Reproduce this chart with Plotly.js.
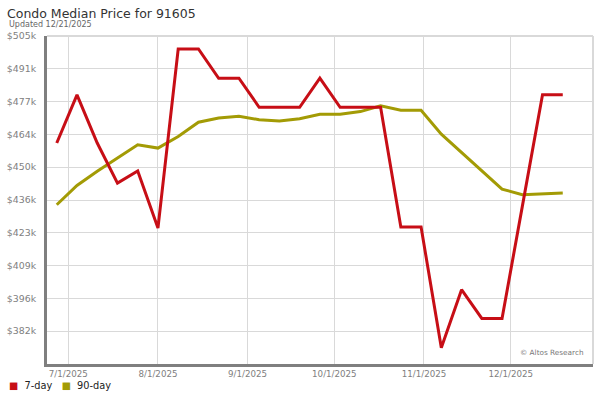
<!DOCTYPE html>
<html>
<head>
<meta charset="utf-8">
<script src="https://cdn.plot.ly/plotly-3.0.1.min.js"></script>
<style>html,body{margin:0;padding:0;background:#fff}#chart{width:600px;height:400px}</style>
</head>
<body>
<div id="chart"></div>
<script>
// Weekly observation dates
const dates = ['2025-06-27','2025-07-04','2025-07-11','2025-07-18','2025-07-25','2025-08-01','2025-08-08','2025-08-15','2025-08-22','2025-08-29','2025-09-05','2025-09-12','2025-09-19','2025-09-26','2025-10-03','2025-10-10','2025-10-17','2025-10-24','2025-10-31','2025-11-07','2025-11-14','2025-11-21','2025-11-28','2025-12-05','2025-12-12','2025-12-19'];
// 7-day median price
const sevenDay = [460400,480500,460400,443700,448800,425000,499600,499600,487400,487400,475300,475300,475300,487400,475300,475300,475300,425400,425400,375100,399300,387300,387300,433900,480500,480500];
// 90-day median price
const ninetyDay = [434700,442700,448600,454200,459700,458300,463100,469100,470800,471600,470100,469600,470500,472400,472400,473500,475900,474100,474100,464100,456600,448800,441200,438900,439200,439600];
// Axis ticks
const yTickLabels = ['$382k','$396k','$409k','$423k','$436k','$450k','$464k','$477k','$491k','$505k'];
const xTickDates = ['2025-07-01','2025-08-01','2025-09-01','2025-10-01','2025-11-01','2025-12-01'];
const xTickLabels = ['7/1/2025','8/1/2025','9/1/2025','10/1/2025','11/1/2025','12/1/2025'];

const yMin = 368333, yMax = 505000;
const yStep = (yMax - yMin) / 10;
const yTickVals = yTickLabels.map((_, i) => yMin + yStep * (i + 1));

const RED = '#c70e16';
const OLIVE = '#a39b05';
const FONT = 'DejaVu Sans, Verdana, sans-serif';

const traces = [
  {x: dates, y: ninetyDay, type: 'scatter', mode: 'lines', name: '90-day',
   line: {color: OLIVE, width: 3}, showlegend: false, hoverinfo: 'skip'},
  {x: dates, y: sevenDay, type: 'scatter', mode: 'lines', name: '7-day',
   line: {color: RED, width: 3}, showlegend: false, hoverinfo: 'skip'}
];

const layout = {
  width: 600, height: 400,
  margin: {l: 47, r: 7, t: 36, b: 36, pad: 0},
  paper_bgcolor: '#fff', plot_bgcolor: '#fff',
  font: {family: FONT, color: '#808080', size: 9},
  showlegend: false,
  title: {text: 'Condo Median Price for 91605', x: 7/600, xref: 'container', xanchor: 'left',
          y: 1 - 14/400, yref: 'container', yanchor: 'middle',
          font: {family: FONT, size: 12.5, color: '#333'}},
  xaxis: {
    type: 'date', range: ['2025-06-23 15:00', '2025-12-29 11:00'],
    tickmode: 'array', tickvals: xTickDates, ticktext: xTickLabels,
    showgrid: true, gridcolor: '#d9d9d9', gridwidth: 1,
    showline: true, linecolor: '#7f7f7f', linewidth: 3,
    ticks: '', zeroline: false, fixedrange: true,
    tickfont: {family: FONT, size: 8.7, color: '#808080'}
  },
  yaxis: {
    range: [yMin, yMax],
    tickmode: 'array', tickvals: yTickVals, ticktext: yTickLabels,
    showgrid: true, gridcolor: '#d9d9d9', gridwidth: 1,
    showline: true, linecolor: '#7f7f7f', linewidth: 3,
    ticks: '', zeroline: false, fixedrange: true,
    ticklabelstandoff: 6,
    tickfont: {family: FONT, size: 9.4, color: '#808080'}
  },
  shapes: [
    {type: 'line', xref: 'paper', yref: 'paper', x0: 0, x1: 1, y0: 1, y1: 1, line: {color: '#d9d9d9', width: 2}},
    {type: 'line', xref: 'paper', yref: 'paper', x0: 1, x1: 1, y0: 0, y1: 1, line: {color: '#d9d9d9', width: 2}}
  ],
  annotations: [
    {text: 'Updated 12/21/2025', xref: 'paper', yref: 'paper', x: (7-47)/546, y: 1 + (36-24.5)/328,
     xanchor: 'left', yanchor: 'middle', showarrow: false, font: {family: FONT, size: 8, color: '#666'}},
    {text: '© Altos Research', xref: 'paper', yref: 'paper', x: 1, y: 0, xshift: -7, yshift: 5,
     xanchor: 'right', yanchor: 'bottom', showarrow: false, font: {family: FONT, size: 7.3, color: '#777'}},
    {text: '<span style="color:' + RED + '">■</span>  7-day   <span style="color:' + OLIVE + '">■</span>  90-day',
     xref: 'paper', yref: 'paper', x: (7-47)/546, y: (364-385.7)/328,
     xanchor: 'left', yanchor: 'middle', showarrow: false, font: {family: FONT, size: 9.8, color: '#222'}}
  ]
};

Plotly.newPlot('chart', traces, layout, {displayModeBar: false, staticPlot: true});
</script>
</body>
</html>
